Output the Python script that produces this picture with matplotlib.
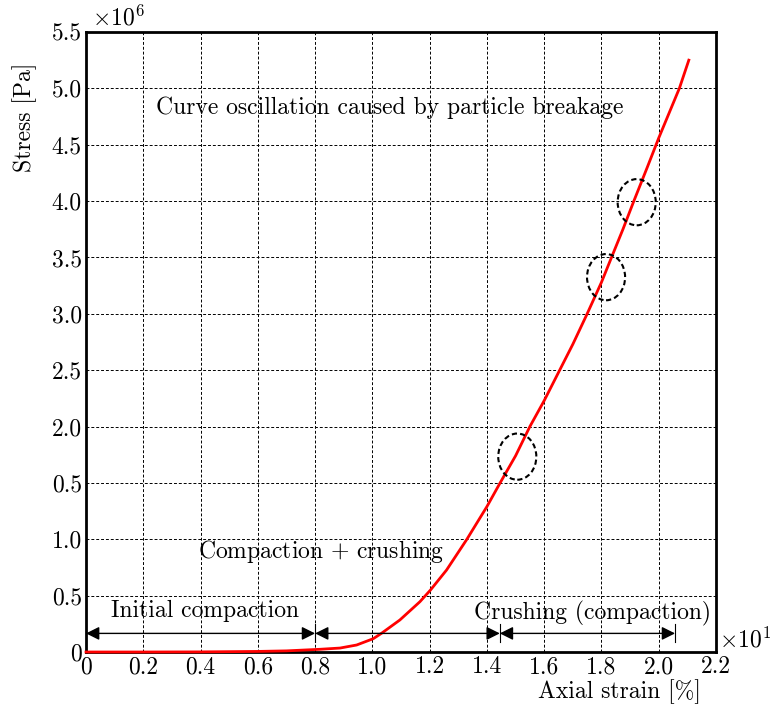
import numpy as np
import matplotlib
matplotlib.use("Agg")
import matplotlib.pyplot as plt
from matplotlib.patches import Ellipse

plt.rcParams['font.family'] = ['cmr10', 'DejaVu Serif']
plt.rcParams['mathtext.fontset'] = 'cm'
plt.rcParams['axes.unicode_minus'] = False
plt.rcParams['axes.formatter.use_mathtext'] = True

# axial strain [%] and stress [Pa]
strain = [0, 2, 4, 6, 7, 8.17, 8.87, 9.45, 10.03, 10.32, 10.96, 11.66, 12.03,
          12.59, 13.3, 14.0, 14.46, 15, 15.5, 16, 16.5, 17, 17.5, 18, 18.35,
          18.75, 19.13, 19.6, 20, 20.72, 21.05]
stress = [0, 0.0, 0.001e6, 0.005e6, 0.01e6, 0.024e6, 0.035e6, 0.062e6, 0.118e6,
          0.166e6, 0.284e6, 0.446e6, 0.55e6, 0.727e6, 1.0e6, 1.29e6, 1.5e6,
          1.74e6, 2.0e6, 2.23e6, 2.48e6, 2.73e6, 3.0e6, 3.28e6, 3.5e6, 3.75e6,
          4.0e6, 4.3e6, 4.56e6, 5.0e6, 5.25e6]

x_ticks = [0, 2, 4, 6, 8, 10, 12, 14, 16, 18, 20, 22]
x_labels = ['0', '0.2', '0.4', '0.6', '0.8', '1.0', '1.2', '1.4', '1.6', '1.8', '2.0', '2.2']
y_ticks = [0, 0.5e6, 1.0e6, 1.5e6, 2.0e6, 2.5e6, 3.0e6, 3.5e6, 4.0e6, 4.5e6, 5.0e6, 5.5e6]
y_labels = ['0', '0.5', '1.0', '0.5', '2.0', '2.5', '3.0', '3.5', '4.0', '4.5', '5.0', '5.5']

# oscillation spots (strain, stress)
spots_x = [15.06, 18.16, 19.23]
spots_y = [1.733e6, 3.325e6, 3.99e6]

# stage boundaries along the strain axis
stages = [0, 8, 14.45, 20.57]
arrow_y = 0.165e6

fig = plt.figure(figsize=(7.7, 7.09), dpi=100)
ax = fig.add_axes([0.1117, 0.0804, 0.8182, 0.8745])

ax.plot(strain, stress, color='red', lw=2, zorder=3, clip_on=False)

for sx, sy in zip(spots_x, spots_y):
    ax.add_patch(Ellipse((sx, sy), 1.33, 0.41e6, fill=False, ec='black',
                         ls=(0, (2.5, 1.5)), lw=1.5, zorder=4))

for a, b in zip(stages[:-1], stages[1:]):
    ax.annotate('', xy=(b, arrow_y), xytext=(a, arrow_y),
                arrowprops=dict(arrowstyle='<|-|>', color='black', lw=1,
                                mutation_scale=20, shrinkA=0, shrinkB=0))
for s in stages[1:]:
    ax.plot([s, s], [arrow_y - 0.08e6, arrow_y + 0.08e6], color='black', lw=0.8)

fs = 17
ax.text(10.6, 4.83e6, 'Curve oscillation caused by particle breakage',
        ha='center', va='center', fontsize=fs)
ax.text(8.2, 0.89e6, r'Compaction$\,+\,$crushing', ha='center', va='center', fontsize=fs)
ax.text(4.15, 0.36e6, 'Initial compaction', ha='center', va='center', fontsize=fs)
ax.text(17.7, 0.34e6, 'Crushing (compaction)', ha='center', va='center', fontsize=fs)

ax.set_xlim(0, 22)
ax.set_ylim(0, 5.5e6)
ax.set_xticks(x_ticks)
ax.set_xticklabels(x_labels)
ax.set_yticks(y_ticks)
ax.set_yticklabels(y_labels)
ax.tick_params(length=0, labelsize=fs, pad=3)
ax.grid(True, color='black', ls=(0, (3, 2)), lw=0.7)
for sp in ax.spines.values():
    sp.set_linewidth(2)

ax.text(0.01, 1.003, r'$\times10^{6}$', transform=ax.transAxes, ha='left', va='bottom', fontsize=fs)
ax.text(1.005, 0.02, r'$\times10^{1}$', transform=ax.transAxes, ha='left', va='center', fontsize=fs)

fig.text(0.0325, 0.835, 'Stress [Pa]', rotation=90, ha='center', va='center', fontsize=fs)
fig.text(0.804, 0.024, 'Axial strain [%]', ha='center', va='center', fontsize=fs)

fig.savefig('out.png', dpi=100)
